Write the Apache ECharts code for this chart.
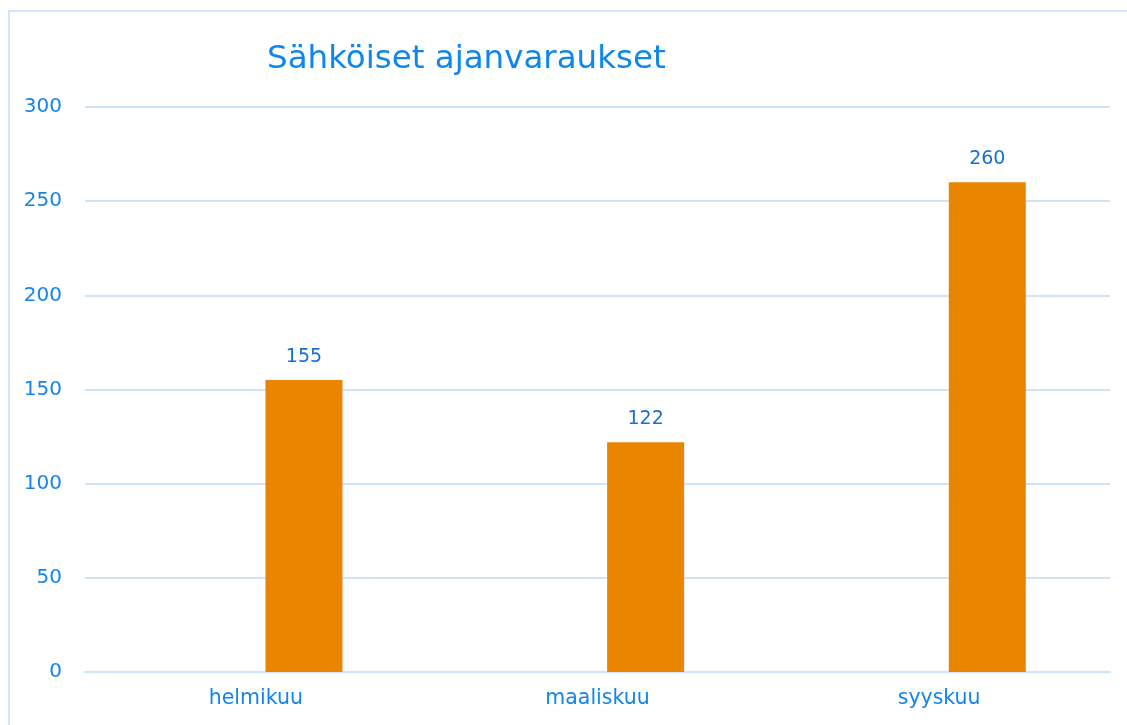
<!DOCTYPE html>
<html>
<head>
<meta charset="utf-8">
<script src="https://cdn.jsdelivr.net/npm/echarts@6/dist/echarts.min.js"></script>
<style>
  html, body { margin: 0; padding: 0; background: #fff; }
  .frame { position: absolute; left: 8px; top: 10px; width: 1200px; height: 800px; border: 2px solid #d2e6fb; }
  #chart { position: absolute; left: 0; top: 0; width: 1127px; height: 725px; }
</style>
</head>
<body>
<div class="frame"></div>
<div id="chart"></div>
<script>
// kuukaudet ja arvot
const categories = ['helmikuu', 'maaliskuu', 'syyskuu'];
const emptyValues = [null, null, null]; // tyhjä sarja, siirtää palkit oikealle
const bookingValues = [155, 122, 260];
const yTicks = { min: 0, max: 300, interval: 50 };

const fontName = 'DejaVu Sans';
let myChart = echarts.init(document.getElementById('chart'));
let option = {
  animation: false,
  title: {
    text: 'Sähköiset ajanvaraukset',
    left: 262,
    top: 38,
    textStyle: { color: '#0f86ec', fontSize: 32.5, fontWeight: 'normal', fontFamily: fontName },
  },
  grid: { left: 85, right: 17, top: 107, bottom: 53, containLabel: false },
  xAxis: {
    type: 'category',
    data: categories,
    axisLine: { show: true, lineStyle: { color: '#cce3fa', width: 2 } },
    axisTick: { show: false },
    axisLabel: { color: '#1585ea', fontSize: 20.5, fontFamily: fontName, margin: 16 },
  },
  yAxis: {
    type: 'value',
    min: yTicks.min,
    max: yTicks.max,
    interval: yTicks.interval,
    axisLine: { show: false },
    axisTick: { show: false },
    axisLabel: { color: '#1585ea', fontSize: 20, fontFamily: fontName, margin: 23 },
    splitLine: { show: true, lineStyle: { color: '#cce3fa', width: 2 } },
  },
  series: [
    {
      type: 'bar',
      data: emptyValues,
      barWidth: 77,
      barGap: '25%',
      silent: true,
    },
    {
      type: 'bar',
      data: bookingValues,
      barWidth: 77,
      barGap: '25%',
      itemStyle: { color: '#ea8500' },
      label: {
        show: true,
        position: 'top',
        distance: 14,
        color: '#1670d2',
        fontSize: 19,
        fontFamily: fontName,
      },
    },
  ],
};
myChart.setOption(option);
</script>
</body>
</html>
